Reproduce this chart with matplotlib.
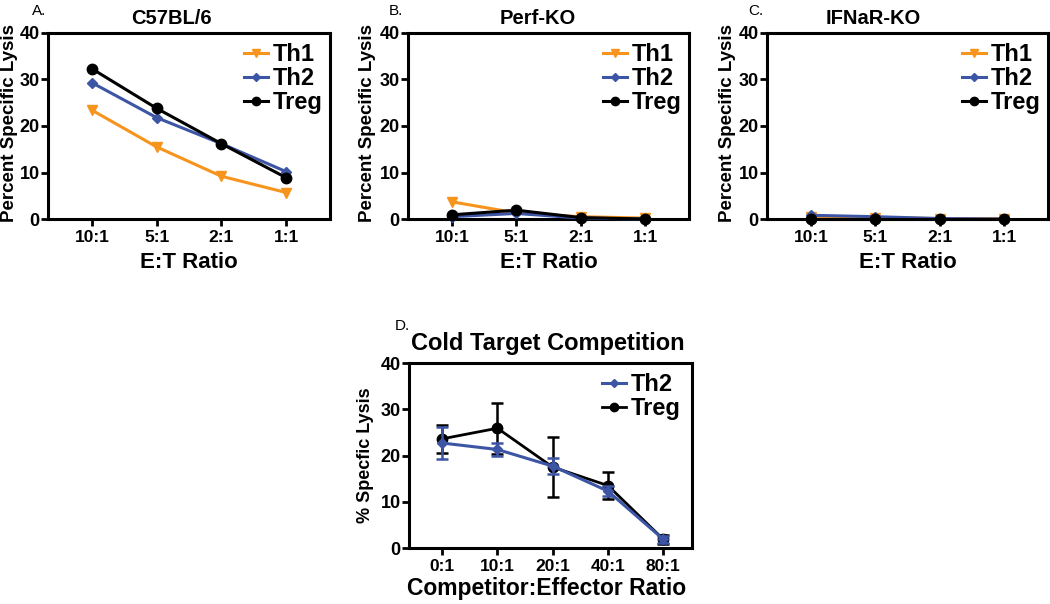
import numpy as np
import matplotlib
matplotlib.use("Agg")
import matplotlib.pyplot as plt

plt.rcParams['font.family'] = ['Liberation Sans', 'DejaVu Sans']
plt.rcParams['font.weight'] = 'bold'

# data
et_labels = ["10:1", "5:1", "2:1", "1:1"]

c57_th1 = [23.4, 15.5, 9.2, 5.7]
c57_th2 = [29.3, 21.8, 16.2, 10.2]
c57_treg = [32.3, 23.8, 16.2, 8.9]

perf_th1 = [3.7, 1.3, 0.5, 0.2]
perf_th2 = [0.5, 1.2, 0.2, 0.0]
perf_treg = [0.9, 1.9, 0.3, 0.0]

ifnar_th1 = [0.5, 0.3, 0.1, 0.1]
ifnar_th2 = [0.8, 0.5, 0.1, 0.0]
ifnar_treg = [0.0, 0.0, 0.0, 0.0]

comp_labels = ["0:1", "10:1", "20:1", "40:1", "80:1"]
comp_th2 = [22.7, 21.3, 17.7, 12.3, 1.9]
comp_th2_err = [3.4, 1.3, 1.8, 1.0, 0.8]
comp_treg = [23.6, 25.9, 17.5, 13.5, 1.9]
comp_treg_err = [3.0, 5.5, 6.5, 2.9, 1.0]

ORANGE = "#F7941D"
BLUE = "#3D55A5"
BLACK = "#000000"

fig = plt.figure(figsize=(10.5, 6.04), dpi=100)


def style_axes(ax, labels, xlim):
    ax.set_xlim(*xlim)
    ax.set_ylim(0, 40)
    ax.set_yticks([0, 10, 20, 30, 40])
    ax.set_xticks(range(len(labels)))
    ax.set_xticklabels(labels)
    for s in ax.spines.values():
        s.set_linewidth(2.2)
    ax.tick_params(axis='x', direction='out', width=2.0, length=5,
                   labelsize=12.5, pad=3)
    ax.tick_params(axis='y', direction='out', width=2.0, length=5,
                   labelsize=13, pad=1)
    for lab in ax.get_xticklabels() + ax.get_yticklabels():
        lab.set_fontweight('bold')


def add_legend(ax, handles, labels, anchor):
    leg = ax.legend(handles, labels, loc='upper right', fontsize=17,
                    frameon=False, handlelength=1.0, handletextpad=0.2,
                    labelspacing=0.05, borderaxespad=0.1, numpoints=1,
                    markerscale=0.8, bbox_to_anchor=anchor)
    for t in leg.get_texts():
        t.set_fontweight('bold')


def et_panel(rect, th1, th2, treg, title, title_x, letter, letter_x, ylab_x):
    ax = fig.add_axes(rect)
    x = np.arange(len(et_labels))
    ax.plot(x, th1, color=ORANGE, lw=2.2, marker='v', ms=7, label='Th1',
            clip_on=False, zorder=3)
    ax.plot(x, th2, color=BLUE, lw=2.2, marker='D', ms=5, label='Th2',
            clip_on=False, zorder=4)
    ax.plot(x, treg, color=BLACK, lw=2.2, marker='o', ms=7.5, label='Treg',
            clip_on=False, zorder=5)
    style_axes(ax, et_labels, (-0.68, 3.68))
    ax.text(ylab_x, 0.515, "Percent Specific Lysis", transform=ax.transAxes,
            rotation=90, ha='center', va='center', fontsize=13.5,
            fontweight='bold')
    ax.text(0.5, -0.263, "E:T Ratio", transform=ax.transAxes, ha='center',
            va='baseline', fontsize=16, fontweight='bold')
    ax.text(title_x, 1.048, title, transform=ax.transAxes, ha='center',
            va='baseline', fontsize=14.5, fontweight='bold')
    ax.text(letter_x, 1.097, letter, transform=ax.transAxes, ha='left',
            va='baseline', fontsize=11, fontweight='normal')
    h, l = ax.get_legend_handles_labels()
    add_legend(ax, h, l, (1.015, 1.01))
    return ax


et_panel([0.0457, 0.6374, 0.2686, 0.308], c57_th1, c57_th2, c57_treg,
         "C57BL/6", 0.436, "A.", -0.057, -0.135)
et_panel([0.3886, 0.6374, 0.2676, 0.308], perf_th1, perf_th2, perf_treg,
         "Perf-KO", 0.46, "B.", -0.068, -0.146)
et_panel([0.7305, 0.6374, 0.2676, 0.308], ifnar_th1, ifnar_th2, ifnar_treg,
         "IFNaR-KO", 0.377, "C.", -0.068, -0.142)

# panel D
ax = fig.add_axes([0.3895, 0.0927, 0.2695, 0.3063])
x = np.arange(len(comp_labels))
treg_eb = ax.errorbar(x, comp_treg, yerr=comp_treg_err, color=BLACK, lw=2.0,
                      marker='o', ms=7.5, capsize=4, elinewidth=1.8,
                      capthick=1.8, clip_on=False, zorder=3)
th2_eb = ax.errorbar(x, comp_th2, yerr=comp_th2_err, color=BLUE, lw=2.2,
                     marker='D', ms=5, capsize=4, elinewidth=1.8,
                     capthick=1.8, clip_on=False, zorder=4)
style_axes(ax, comp_labels, (-0.6, 4.52))
ax.text(-0.152, 0.5, "% Specfic Lysis", transform=ax.transAxes, rotation=90,
        ha='center', va='center', fontsize=13, fontweight='bold')
ax.text(0.485, -0.254, "Competitor:Effector Ratio", transform=ax.transAxes,
        ha='center', va='baseline', fontsize=16.5, fontweight='bold')
ax.text(0.49, 1.07, "Cold Target Competition", transform=ax.transAxes,
        ha='center', va='baseline', fontsize=17, fontweight='bold')
ax.text(-0.05, 1.178, "D.", transform=ax.transAxes, ha='left', va='baseline',
        fontsize=11, fontweight='normal')
add_legend(ax, [th2_eb.lines[0], treg_eb.lines[0]], ['Th2', 'Treg'],
           (1.0, 1.01))

fig.savefig("out.png", dpi=100)
